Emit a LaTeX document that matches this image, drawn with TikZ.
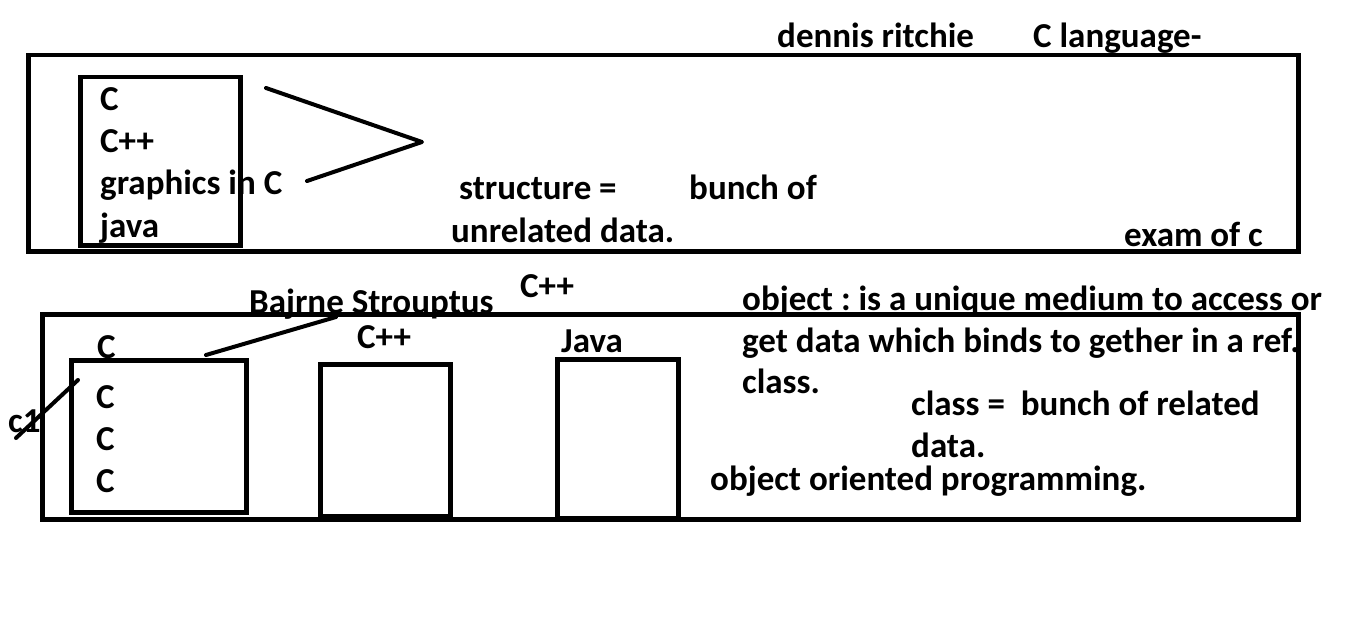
\documentclass[tikz,border=0pt]{standalone}
\usepackage{fontspec}
\setmainfont{Carlito}
\usepackage{tikz}
\frenchspacing
\tikzset{txt/.style={anchor=base west, inner sep=0pt, font=\bfseries\fontsize{35}{42}\selectfont}}
\tikzset{box/.style={draw, line width=4.5pt, anchor=north west, inner sep=0pt}}
\tikzset{stroke/.style={line width=4pt, line cap=round, line join=round}}

\begin{document}
\begin{tikzpicture}[x=1pt,y=-1pt]
    \useasboundingbox (0,0) rectangle (1345,623);
    % upper panel
    \node [txt] (dennis) at (777,48) {dennis ritchie};
    \node [txt] (clang) at (1033,48) {C language-};
    \node [txt] (lc) at (100,111) {C};
    \node [txt] (lcpp) at (100,153) {C++};
    \node [txt] (lgfx) at (100,195) {graphics in C};
    \node [txt] (ljava) at (100,237) {java};
    \node [txt] (struct) at (459,200) {structure =};
    \node [txt] (bunch) at (689,200) {bunch of};
    \node [txt] (unrel) at (451,242) {unrelated data.};
    \node [txt] (exam) at (1124,246) {exam of c};
    \node [box, minimum width=1270pt, minimum height=196pt] (upper) at (26,53) {};
    \node [box, minimum width=160pt, minimum height=168pt] (list) at (78,75) {};
    \coordinate (va) at (266,88);
    \coordinate (vb) at (422,142);
    \coordinate (vc) at (307,181);
    \draw [stroke] (va) -- (vb) -- (vc);
    % lower panel
    \node [txt] (cpptop) at (520,297) {C++};
    \node [txt] (bjarne) at (249,313) {Bajrne Strouptus};
    \node [txt] (obj1) at (742,310) {object : is a unique medium to access or};
    \node [txt] (obj2) at (742,352) {get data which binds to gether in a ref.};
    \node [txt] (obj3) at (742,393) {class.};
    \node [txt] (cls1) at (911,415) {class = \ bunch of related};
    \node [txt] (cls2) at (911,457) {data.};
    \node [txt] (oop) at (710,490) {object oriented programming.};
    \node [txt] (hc) at (97,358) {C};
    \node [txt] (hcpp) at (357,348) {C++};
    \node [txt] (hjava) at (561,352) {Java};
    \node [txt] (c1a) at (96,408) {C};
    \node [txt] (c1b) at (96,450) {C};
    \node [txt] (c1c) at (96,492) {C};
    \node [txt] (cone) at (8,432) {c1};
    \node [box, minimum width=1256pt, minimum height=205pt] (lower) at (40,312) {};
    \node [box, minimum width=175pt, minimum height=152pt] (box1) at (69,358) {};
    \node [box, minimum width=130pt, minimum height=152pt] (box2) at (318,362) {};
    \node [box, minimum width=121pt, minimum height=159pt] (box3) at (555,357) {};
    \coordinate (conefoot) at (16,438);
    \coordinate (conetip) at (78,380);
    \draw [stroke] (conefoot) -- (conetip);
    \coordinate (bjfoot) at (206,355);
    \coordinate (bjtip) at (336,317);
    \draw [stroke] (bjfoot) -- (bjtip);
\end{tikzpicture}
\end{document}
